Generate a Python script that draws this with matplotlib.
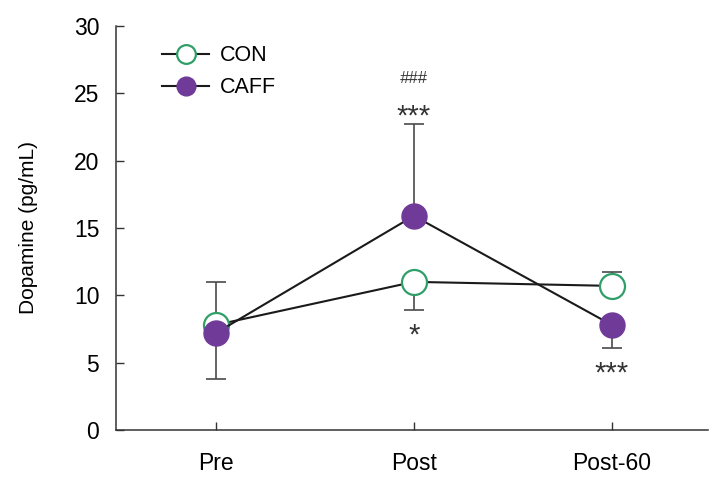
import matplotlib
matplotlib.use("Agg")
import matplotlib.pyplot as plt
from matplotlib import font_manager

names = set(f.name for f in font_manager.fontManager.ttflist)
fam = 'Liberation Sans Narrow' if 'Liberation Sans Narrow' in names else 'Liberation Sans'
plt.rcParams['font.family'] = [fam, 'DejaVu Sans']

# data
times = ['Pre', 'Post', 'Post-60']
con = [7.8, 11.0, 10.7]
caff = [7.2, 15.9, 7.8]
con_err_lo = [0, 2.1, 0]
con_err_hi = [3.2, 0, 1.0]
caff_err_lo = [3.4, 0, 1.7]
caff_err_hi = [0, 6.8, 0]

green = '#2f9e68'
purple = '#6f3a98'
egray = '#4a4a4a'

fig = plt.figure(figsize=(7.23, 4.88), dpi=100)
ax = fig.add_axes([0.1604, 0.1189, 0.979 - 0.1604, 0.9467 - 0.1189])

x = list(range(len(times)))

ax.errorbar(x, con, yerr=[con_err_lo, con_err_hi], fmt='none', ecolor=egray,
            elinewidth=1.2, capsize=7, capthick=1.2, zorder=1)
ax.errorbar(x, caff, yerr=[caff_err_lo, caff_err_hi], fmt='none', ecolor=egray,
            elinewidth=1.2, capsize=7, capthick=1.2, zorder=1)

ax.plot(x, con, color='#1a1a1a', lw=1.5, marker='o', ms=18, mfc='white',
        mec=green, mew=1.6, label='CON', zorder=3)
ax.plot(x, caff, color='#1a1a1a', lw=1.5, marker='o', ms=18, mfc=purple,
        mec=purple, mew=1.0, label='CAFF', zorder=4)

# significance marks
ax.text(1, 26.1, '###', ha='center', va='center', fontsize=12, style='italic', color='#333333')
ax.text(1, 23.3, '***', ha='center', va='center', fontsize=21, color='#333333')
ax.text(1, 7.0, '*', ha='center', va='center', fontsize=21, color='#333333')
ax.text(2, 4.2, '***', ha='center', va='center', fontsize=21, color='#333333')

ax.set_xlim(-0.505, 2.485)
ax.set_ylim(0, 30)
ax.set_yticks([0, 5, 10, 15, 20, 25, 30])
ax.set_xticks(x)
ax.set_xticklabels(times)
ax.tick_params(axis='both', direction='in', length=6, width=1, color='#333333',
               labelsize=16.5, pad=16)
ax.tick_params(axis='y', pad=12)
for s in ['top', 'right']:
    ax.spines[s].set_visible(False)
for s in ['left', 'bottom']:
    ax.spines[s].set_color('#333333')
    ax.spines[s].set_linewidth(1.1)

ax.set_ylabel('Dopamine (pg/mL)', fontsize=15, labelpad=26)

leg = ax.legend(loc='upper left', bbox_to_anchor=(0.045, 1.0), frameon=False,
                fontsize=15.5, handlelength=2.2, markerscale=0.75, labelspacing=0.5,
                handletextpad=0.5)

fig.savefig('out.png', dpi=100)
